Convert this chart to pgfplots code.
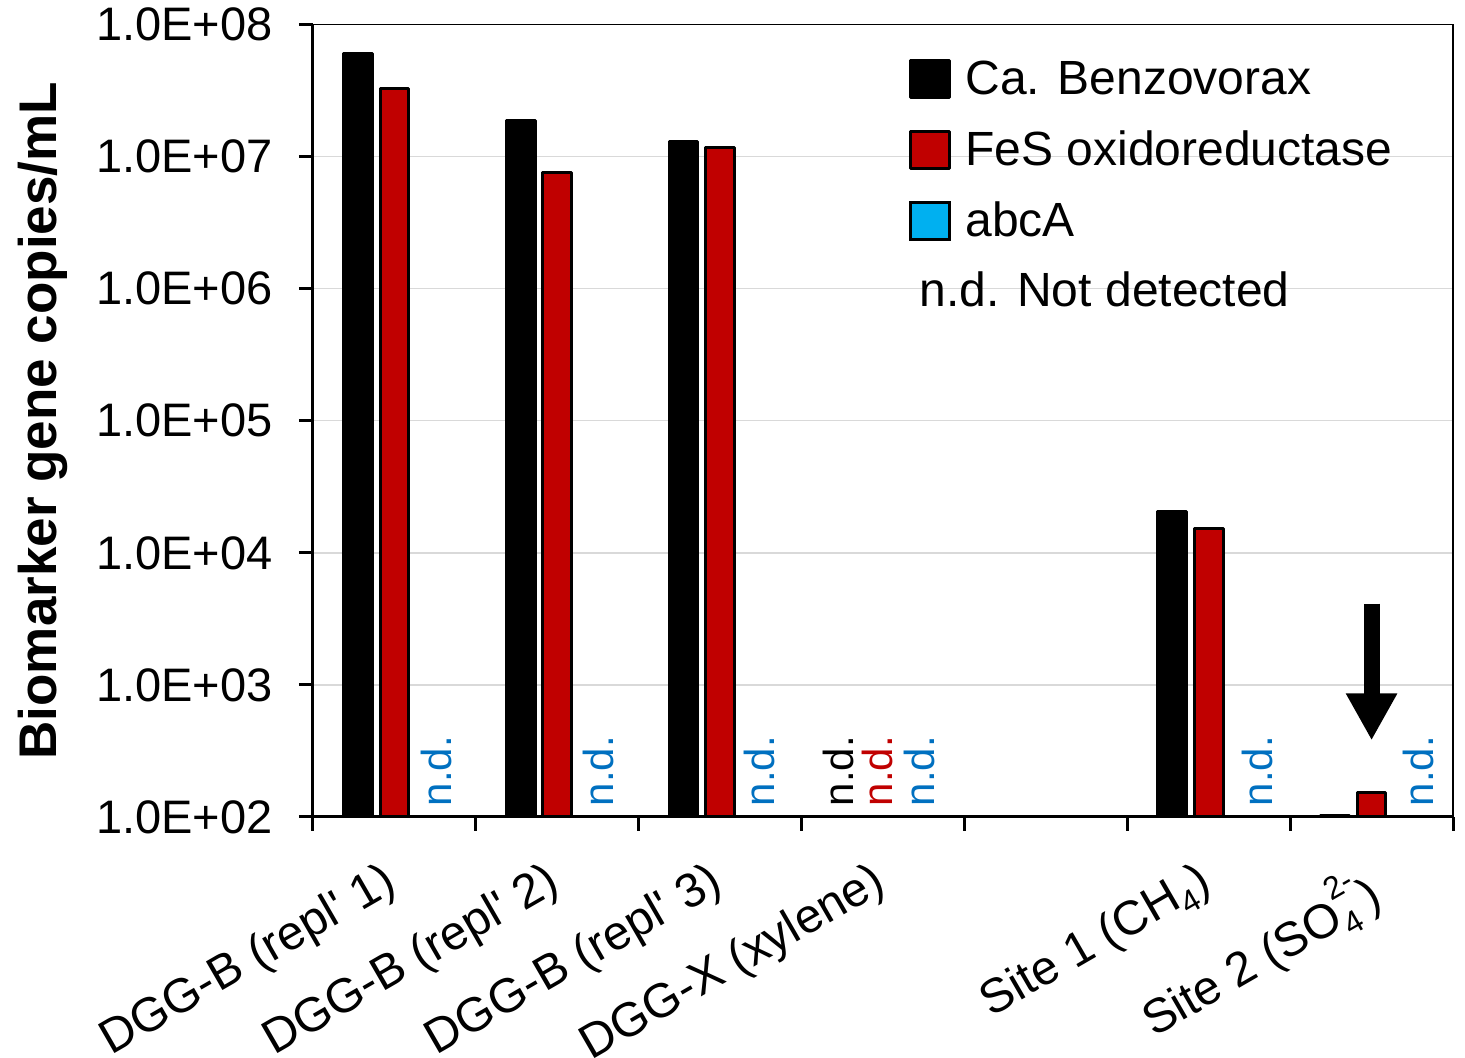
\documentclass[border=0pt]{standalone}
\usepackage{pgfplots}
\pgfplotsset{compat=1.18}
\usepackage{fontspec}
\setmainfont{Liberation Sans}
\newfontfamily\plainarial{Liberation Sans}
\usetikzlibrary{arrows.meta}
\definecolor{cred}{HTML}{C00000}
\definecolor{cblue}{HTML}{00B0F0}
\definecolor{ndblue}{HTML}{0070C0}
\definecolor{gridgray}{HTML}{D9D9D9}
\newcommand{\ap}{{\plainarial'}}
\newcommand{\mysub}[1]{\raisebox{-0.22em}{\fontsize{16}{16}\selectfont #1}}
\newcommand{\mysup}[1]{\raisebox{0.62em}{\fontsize{16}{16}\selectfont #1}}
\pgfplotsset{boxlegend/.style={legend image code/.code={\draw[##1, line width=1.5pt] (0pt,-9.25pt) rectangle (19.5pt,9.25pt);}}}
\begin{document}
\begin{tikzpicture}
\begin{axis}[
  scale only axis, width=570pt, height=396.25pt,
  xmin=-0.5, xmax=6.5, ymin=1e2, ymax=1e8,
  ymode=log, log origin=infty,
  ybar, bar width=0.176,
  clip=false,
  axis line style={black, line width=0.7pt},
  xtick={-0.5,0.5,1.5,2.5,3.5,4.5,5.5,6.5},
  xticklabels={},
  extra x ticks={0,1,2,3,4,5,6},
  extra x tick labels={DGG-B (repl\ap{} 1), DGG-B (repl\ap{} 2), DGG-B (repl\ap{} 3), DGG-X (xylene), {}, Site 1 (CH\mysub{4}), Site 2 (SO\rlap{\mysub{4}}\mysup{2-})},
  extra x tick style={tick style={draw=none}, xticklabel shift=14pt},
  xminorticks=false, yminorticks=false,
  major tick length=7pt,
  tick align=outside,
  xtick pos=bottom, ytick pos=left,
  tick style={black, line width=1.5pt},
  ytick={1e2,1e3,1e4,1e5,1e6,1e7,1e8},
  yticklabels={1.0E+02,1.0E+03,1.0E+04,1.0E+05,1.0E+06,1.0E+07,1.0E+08},
  ymajorgrids=true,
  major grid style={gridgray, line width=0.75pt},
  yticklabel style={font=\fontsize{23.5}{28}\selectfont, anchor=east, inner sep=0pt},
  yticklabel shift=13pt,
  xticklabel style={font=\fontsize{24}{28}\selectfont, xshift=-6.5pt, rotate=30, anchor=north east, inner sep=0pt},
  ylabel={Biomarker gene copies/mL},
  every axis y label/.style={at={(axis description cs:-0.237,0.5)}, rotate=90, anchor=center, font=\bfseries\fontsize{26.5}{30}\selectfont},
  legend style={at={(axis description cs:0.5176,0.962)}, anchor=north west, draw=none, fill=none,
    font=\fontsize{24}{28}\selectfont, row sep=15.5pt, column sep=7pt,
    nodes={inner sep=0pt}},
  legend cell align=left,
]
\addplot[fill=black, draw=black, line width=1.5pt, line join=round, bar shift=-0.224, boxlegend]
  coordinates {(0,6.08e7) (1,1.87e7) (2,1.30e7) (5,2.05e4) (6,102)};
\addplot[fill=cred, draw=black, line width=1.5pt, line join=round, bar shift=0, boxlegend]
  coordinates {(0,3.30e7) (1,7.63e6) (2,1.18e7) (5,1.52e4) (6,154.5)};
\addlegendimage{fill=cblue, draw=black, line width=1.5pt, boxlegend}
\addlegendimage{empty legend}
\legend{Ca. Benzovorax, FeS oxidoreductase, abcA, \hspace*{-23pt}n.d. Not detected}
% n.d. annotations
\begin{scope}[every node/.style={rotate=90, anchor=west, inner sep=0pt, font=\fontsize{21}{24}\selectfont}]
\node[text=ndblue] at (axis cs:0.261,120) {n.d.};
\node[text=ndblue] at (axis cs:1.250,120) {n.d.};
\node[text=ndblue] at (axis cs:2.239,120) {n.d.};
\node[text=black] at (axis cs:2.724,120) {n.d.};
\node[text=cred] at (axis cs:2.969,120) {n.d.};
\node[text=ndblue] at (axis cs:3.221,120) {n.d.};
\node[text=ndblue] at (axis cs:5.302,120) {n.d.};
\node[text=ndblue] at (axis cs:6.285,120) {n.d.};
\end{scope}
\draw[black, line width=8pt, -{Triangle[width=24pt, length=23.5pt]}] (axis cs:6,4121) -- (axis cs:6,380);
\draw[black, line width=1.5pt] (rel axis cs:0,1) -- (rel axis cs:0,0) -- (rel axis cs:1,0);
\coordinate (O) at (rel axis cs:0,0);
\end{axis}
\pgfresetboundingbox
\path[use as bounding box] ([shift={(-156.5pt,-120.5pt)}]O) rectangle ([shift={(576pt,408.5pt)}]O);
\end{tikzpicture}
\end{document}
